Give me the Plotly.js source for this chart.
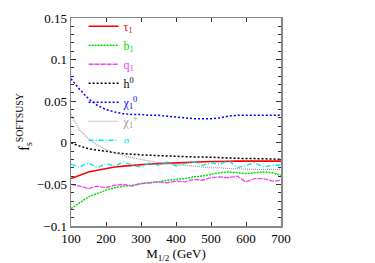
<!DOCTYPE html>
<html><head><meta charset="utf-8">
<script src="https://cdn.plot.ly/plotly-3.0.1.min.js"></script>
<style>html,body{margin:0;padding:0;background:#fff}#c{width:375px;height:263px}</style>
</head><body><div id="c"></div>
<script>
const mHalf = [100,125,150,175,200,225,250,275,300,325,350,375,400,425,450,475,500,525,550,575,600,625,650,675,700];
const tau1 = [-0.043,-0.039,-0.035,-0.033,-0.031,-0.029,-0.028,-0.027,-0.026,-0.0255,-0.025,-0.0245,-0.024,-0.0235,-0.023,-0.023,-0.0225,-0.0225,-0.022,-0.022,-0.022,-0.022,-0.022,-0.022,-0.022];
const b1 = [-0.079,-0.072,-0.065,-0.061,-0.057,-0.054,-0.052,-0.051,-0.049,-0.048,-0.047,-0.045,-0.044,-0.043,-0.041,-0.040,-0.038,-0.036,-0.035,-0.036,-0.037,-0.036,-0.035,-0.036,-0.039];
const q1 = [-0.050,-0.052,-0.055,-0.052,-0.054,-0.051,-0.050,-0.052,-0.049,-0.048,-0.047,-0.048,-0.046,-0.047,-0.044,-0.045,-0.042,-0.041,-0.042,-0.040,-0.047,-0.043,-0.043,-0.046,-0.045];
const h0 = [0.000,-0.004,-0.007,-0.009,-0.010,-0.012,-0.013,-0.014,-0.0145,-0.015,-0.0155,-0.016,-0.016,-0.0165,-0.017,-0.017,-0.0175,-0.018,-0.018,-0.0185,-0.019,-0.019,-0.019,-0.0195,-0.020];
const chi10 = [0.077,0.064,0.053,0.045,0.040,0.037,0.035,0.034,0.034,0.033,0.033,0.032,0.031,0.030,0.029,0.029,0.029,0.030,0.032,0.033,0.033,0.033,0.033,0.033,0.033];
const chi1p = [0.034,0.015,0.005,-0.003,-0.008,-0.012,-0.015,-0.018,-0.020,-0.022,-0.024,-0.025,-0.026,-0.027,-0.028,-0.029,-0.030,-0.030,-0.031,-0.031,-0.032,-0.032,-0.032,-0.032,-0.032];
const gluino = [-0.026,-0.029,-0.024,-0.030,-0.025,-0.028,-0.023,-0.027,-0.029,-0.024,-0.027,-0.023,-0.028,-0.025,-0.023,-0.027,-0.024,-0.026,-0.021,-0.030,-0.027,-0.024,-0.029,-0.027,-0.027];
const names = ['τ<sub>1</sub>','b<sub>1</sub>','q<sub>1</sub>','h<sup>0</sup>','χ<sub>1</sub><sup>0</sup>','χ<sub>1</sub><sup>+</sup>','g'];
const colors = ['#ff0000','#00dd00','#ee44ee','#000000','#0000ff','#999999','#00e5ee'];
const dashes = ['solid','2px,1px','5px,1px','2px,2px','2px,2px','1px,1px','5px,2px,1px,2px'];
const widths = [1.6,1.5,1.3,1.5,1.5,1.2,1.3];
const series = [tau1,b1,q1,h0,chi10,chi1p,gluino];
const font = 'Liberation Serif, Times New Roman, serif';
const data = series.map((s,i)=>({x:mHalf,y:s,type:'scatter',mode:'lines',
  name:'<span style="color:'+colors[i]+'">'+names[i]+'</span>',
  line:{color:colors[i],width:widths[i],dash:dashes[i]}}));
const layout = {
  width:375,height:263,margin:{l:71,r:94,t:15,b:37},
  paper_bgcolor:'#fff',plot_bgcolor:'#fff',
  font:{family:font,size:13,color:'#000'},
  showlegend:true,
  legend:{x:0.06,y:1.03,xanchor:'left',yanchor:'top',bgcolor:'rgba(0,0,0,0)',font:{size:12,family:font},tracegroupgap:0,itemwidth:30},
  xaxis:{range:[100,700],dtick:100,tick0:100,ticks:'inside',ticklen:4,tickcolor:'#333',showline:true,linecolor:'#888',linewidth:1.5,mirror:'ticks',showgrid:false,zeroline:false,
    title:{text:'M<sub>1/2</sub> (GeV)',standoff:4,font:{size:13,family:font}}},
  yaxis:{range:[-0.1,0.15],dtick:0.05,ticks:'inside',ticklen:5,tickcolor:'#333',showline:true,linecolor:'#888',linewidth:1.5,mirror:'ticks',showgrid:false,zeroline:false,
    minor:{dtick:0.01,ticks:'inside',ticklen:3,tickcolor:'#333'},
    title:{text:'f<sub>s</sub><sup>SOFTSUSY</sup>',standoff:4,font:{size:14,family:font}}}
};
Plotly.newPlot('c',data,layout,{displayModeBar:false,staticPlot:true});
</script></body></html>
